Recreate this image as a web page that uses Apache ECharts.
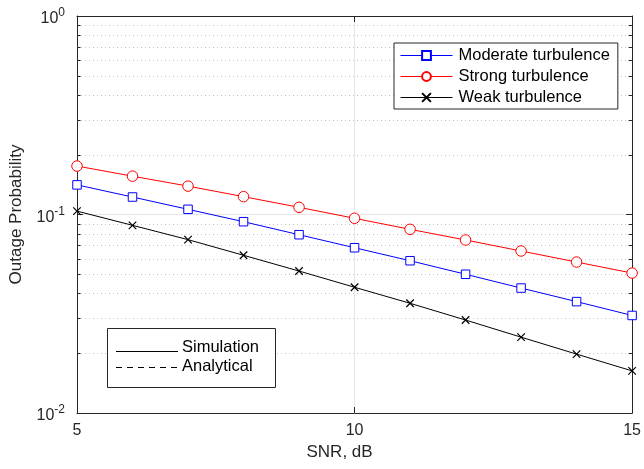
<!DOCTYPE html>
<html>
<head>
<meta charset="utf-8">
<script src="https://cdn.jsdelivr.net/npm/echarts@6/dist/echarts.min.js"></script>
<style>
html,body{margin:0;padding:0;background:#fff;}
#chart{width:644px;height:469px;}
</style>
</head>
<body>
<div id="chart"></div>
<script>
// ---- data ----
const snr = [5, 6, 7, 8, 9, 10, 11, 12, 13, 14, 15];
const moderate = [0.141, 0.1225, 0.1062, 0.092, 0.0791, 0.068, 0.0585, 0.050, 0.0426, 0.0364, 0.0310];
const strong   = [0.1754, 0.156, 0.139, 0.123, 0.1087, 0.0957, 0.0842, 0.0744, 0.0655, 0.0576, 0.0507];
const weak     = [0.104, 0.0882, 0.0747, 0.0623, 0.0519, 0.043, 0.0357, 0.0294, 0.0241, 0.0198, 0.0163];
const seriesNames = ['Moderate turbulence', 'Strong turbulence', 'Weak turbulence'];
const xTicks = [5, 10, 15];
const yMinor = [0.02,0.03,0.04,0.05,0.06,0.07,0.08,0.09,0.2,0.3,0.4,0.5,0.6,0.7,0.8,0.9];
const legend2Labels = ['Simulation', 'Analytical'];

const AX = '#262626';
const FONT = 'Liberation Sans, Arial, Helvetica, sans-serif';

const chart = echarts.init(document.getElementById('chart'), null, {renderer: 'canvas'});

function pairs(ys) { return snr.map((x, i) => [x, ys[i]]); }

const crossPath = 'path://M0,0L10,10M10,0L0,10';

const option = {
  animation: false,
  backgroundColor: '#fff',
  textStyle: {fontFamily: FONT},
  grid: {left: 77, right: 11, top: 16, bottom: 56, containLabel: false},
  xAxis: [{
    type: 'value', min: xTicks[0], max: xTicks[xTicks.length - 1], interval: 5,
    position: 'bottom',
    name: 'SNR, dB', nameLocation: 'middle', nameGap: 27,
    nameTextStyle: {fontSize: 17, color: AX, fontFamily: FONT, padding: [0, 30, 0, 0]},
    axisLine: {show: true, lineStyle: {color: AX, width: 1}},
    axisTick: {show: true, inside: true, length: 6, lineStyle: {color: AX}},
    axisLabel: {fontSize: 16, color: AX, margin: 10, fontFamily: FONT},
    splitLine: {show: true, lineStyle: {color: '#e6e6e6', width: 1}}
  }, {
    type: 'value', min: xTicks[0], max: xTicks[xTicks.length - 1], interval: 5,
    position: 'top',
    axisLine: {show: true, lineStyle: {color: AX, width: 1}},
    axisTick: {show: true, inside: true, length: 6, lineStyle: {color: AX}},
    axisLabel: {show: false},
    splitLine: {show: false}
  }],
  yAxis: [{
    type: 'log', logBase: 10, min: 0.01, max: 1,
    position: 'left',
    name: 'Outage Probability', nameLocation: 'middle', nameGap: 52,
    nameTextStyle: {fontSize: 17, color: AX, fontFamily: FONT},
    axisLine: {show: true, lineStyle: {color: AX, width: 1}},
    axisTick: {show: true, inside: true, length: 6, lineStyle: {color: AX}},
    axisLabel: {
      fontSize: 16, color: AX, margin: 12, fontFamily: FONT,
      formatter: function (v) {
        const e = Math.round(Math.log10(v));
        return '{b|10}{s|' + e + '}';
      },
      rich: {
        b: {fontSize: 16, color: AX, fontFamily: FONT, padding: [6, 0, 0, 0]},
        s: {fontSize: 12, color: AX, fontFamily: FONT, padding: [0, 0, 6, 0]}
      }
    },
    splitLine: {show: true, lineStyle: {color: '#e6e6e6', width: 1}}
  }, {
    type: 'log', logBase: 10, min: 0.01, max: 1,
    position: 'right',
    axisLine: {show: true, lineStyle: {color: AX, width: 1}},
    axisTick: {show: true, inside: true, length: 6, lineStyle: {color: AX}},
    axisLabel: {show: false},
    splitLine: {show: false}
  }],
  legend: {
    data: seriesNames,
    orient: 'vertical',
    left: 394, top: 43,
    padding: [4, 8, 3, 6],
    itemWidth: 52, itemHeight: 11, itemGap: 4,
    lineStyle: {width: 1},
    backgroundColor: '#fff',
    borderColor: AX, borderWidth: 1, borderRadius: 0,
    textStyle: {fontSize: 16.5, color: '#000', fontFamily: FONT, padding: [0, 0, 0, 1]}
  },
  series: [
    {
      type: 'custom', name: 'minor', silent: true, z: 1,
      xAxisIndex: 0, yAxisIndex: 0,
      data: yMinor.map(v => [snr[0], v]),
      encode: {x: 0, y: 1},
      renderItem: function (params, api) {
        const cs = params.coordSys;
        const y = Math.round(api.coord([api.value(0), api.value(1)])[1]) + 0.5;
        const x0 = cs.x, x1 = cs.x + cs.width;
        return {
          type: 'group',
          children: [
            {type: 'line', shape: {x1: x0, y1: y, x2: x1, y2: y},
             style: {stroke: '#c4c4c4', lineWidth: 1, lineDash: [1, 3]}},
            {type: 'line', shape: {x1: x0, y1: y, x2: x0 + 3.5, y2: y},
             style: {stroke: AX, lineWidth: 1}},
            {type: 'line', shape: {x1: x1 - 3.5, y1: y, x2: x1, y2: y},
             style: {stroke: AX, lineWidth: 1}}
          ]
        };
      }
    },
    {
      name: seriesNames[0], type: 'line', data: pairs(moderate), z: 3,
      symbol: 'rect', symbolSize: 8.5, showSymbol: true,
      lineStyle: {color: '#0000ff', width: 1},
      itemStyle: {color: '#fff', borderColor: '#0000ff', borderWidth: 1}
    },
    {
      name: seriesNames[1], type: 'line', data: pairs(strong), z: 3,
      symbol: 'circle', symbolSize: 10.5, showSymbol: true,
      lineStyle: {color: '#ff0000', width: 1},
      itemStyle: {color: '#fff', borderColor: '#ff0000', borderWidth: 1}
    },
    {
      name: seriesNames[2], type: 'line', data: pairs(weak), z: 3,
      symbol: crossPath, symbolSize: 7.5, showSymbol: true,
      lineStyle: {color: '#000', width: 1},
      itemStyle: {color: '#000', borderColor: '#000', borderWidth: 1.2}
    }
  ],
  graphic: [
    {type: 'rect', left: 107, top: 328, shape: {width: 168, height: 59},
     style: {fill: '#fff', stroke: AX, lineWidth: 1}, z: 10},
    {type: 'line', shape: {x1: 116, y1: 351.5, x2: 178, y2: 351.5},
     style: {stroke: '#000', lineWidth: 1}, z: 11},
    {type: 'line', shape: {x1: 116, y1: 367.5, x2: 178, y2: 367.5},
     style: {stroke: '#000', lineWidth: 1, lineDash: [6, 5]}, z: 11},
    {type: 'text', left: 182, top: 339, z: 11,
     style: {text: legend2Labels[0], fontSize: 16.5, fill: '#000', fontFamily: FONT}},
    {type: 'text', left: 182, top: 358, z: 11,
     style: {text: legend2Labels[1], fontSize: 16.5, fill: '#000', fontFamily: FONT}}
  ]
};

chart.setOption(option);
</script>
</body>
</html>
